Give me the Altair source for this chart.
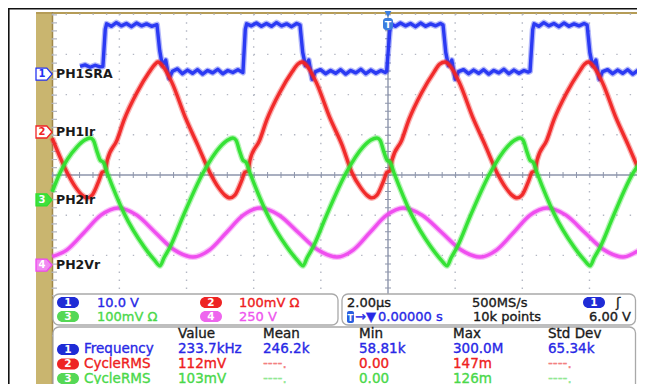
import altair as alt
import pandas as pd

# ================= values read from the oscilloscope screen =================
# time in microseconds (trigger at t = 0), level in screen divisions (0 = centre line)
ch1_trace = [
    (-9.17, 2.70), (-9.02, 2.74), (-8.87, 2.68), (-8.72, 2.73), (-8.58, 2.69), (-8.49, 2.70),
    (-8.42, 3.62), (-8.38, 3.76), (-8.24, 3.70), (-8.09, 3.79), (-7.94, 3.71), (-7.79, 3.77),
    (-7.64, 3.69), (-7.49, 3.78), (-7.34, 3.71), (-7.19, 3.76), (-7.04, 3.70), (-6.88, 3.74),
    (-6.80, 3.10), (-6.72, 2.72), (-6.62, 2.86), (-6.52, 2.40), (-6.42, 2.58),
    (-6.27, 2.64), (-6.12, 2.52), (-5.97, 2.61), (-5.82, 2.53), (-5.67, 2.62), (-5.52, 2.51),
    (-5.37, 2.60), (-5.22, 2.54), (-5.07, 2.63), (-4.92, 2.52), (-4.77, 2.60), (-4.62, 2.55),
    (-4.47, 2.62), (-4.32, 2.55),
    (-4.25, 3.62), (-4.21, 3.76), (-4.07, 3.71), (-3.92, 3.78), (-3.77, 3.70), (-3.62, 3.77),
    (-3.47, 3.70), (-3.32, 3.79), (-3.17, 3.71), (-3.02, 3.76), (-2.87, 3.69), (-2.72, 3.77),
    (-2.62, 3.73),
    (-2.54, 3.05), (-2.46, 2.72), (-2.36, 2.86), (-2.26, 2.38), (-2.16, 2.57),
    (-2.01, 2.62), (-1.86, 2.52), (-1.71, 2.60), (-1.56, 2.53), (-1.41, 2.62), (-1.26, 2.51),
    (-1.11, 2.60), (-0.96, 2.54), (-0.81, 2.63), (-0.66, 2.52), (-0.51, 2.61), (-0.36, 2.53),
    (-0.21, 2.60), (-0.08, 2.55), (-0.04, 2.58),
    (0.05, 3.55), (0.09, 3.76), (0.22, 3.70), (0.37, 3.78), (0.52, 3.71), (0.67, 3.77),
    (0.82, 3.69), (0.97, 3.78), (1.12, 3.70), (1.27, 3.76), (1.42, 3.71), (1.56, 3.77),
    (1.64, 3.73),
    (1.72, 3.05), (1.80, 2.72), (1.90, 2.86), (2.00, 2.38), (2.10, 2.57),
    (2.25, 2.62), (2.40, 2.52), (2.55, 2.61), (2.70, 2.53), (2.85, 2.62), (3.00, 2.51),
    (3.15, 2.60), (3.30, 2.54), (3.45, 2.63), (3.60, 2.52), (3.75, 2.61), (3.90, 2.53),
    (4.05, 2.60), (4.18, 2.56), (4.23, 2.58),
    (4.31, 3.62), (4.35, 3.76), (4.49, 3.70), (4.64, 3.79), (4.79, 3.71), (4.94, 3.77),
    (5.09, 3.69), (5.24, 3.78), (5.39, 3.70), (5.54, 3.76), (5.69, 3.71), (5.84, 3.77),
    (5.93, 3.73),
    (6.01, 3.05), (6.09, 2.72), (6.19, 2.86), (6.29, 2.38), (6.39, 2.57),
    (6.54, 2.62), (6.69, 2.52), (6.84, 2.61), (6.99, 2.53), (7.14, 2.62), (7.29, 2.51),
    (7.44, 2.60), (7.59, 2.54), (7.65, 2.58),
]

ch2_trace = [
    (-10.00, 0.92), (-9.56, 0.07), (-9.29, -0.32), (-9.11, -0.50), (-8.96, -0.57),
    (-8.81, -0.50), (-8.60, -0.12), (-8.51, 0.07), (-8.42, 0.10), (-8.36, 0.37), (-8.07, 0.87),
    (-7.86, 1.37), (-7.47, 2.06), (-7.11, 2.56), (-6.93, 2.76), (-6.86, 2.81),
    (-6.71, 2.71), (-6.44, 2.31), (-6.03, 1.42), (-5.67, 0.75), (-5.31, 0.07), (-5.04, -0.32),
    (-4.86, -0.50), (-4.71, -0.57),
    (-4.56, -0.50), (-4.35, -0.12), (-4.26, 0.07), (-4.17, 0.10), (-4.11, 0.37), (-3.82, 0.87),
    (-3.61, 1.37), (-3.22, 2.06), (-2.86, 2.56), (-2.68, 2.76), (-2.56, 2.81),
    (-2.41, 2.71), (-2.14, 2.31), (-1.73, 1.42), (-1.37, 0.75), (-1.08, 0.07), (-0.81, -0.32),
    (-0.63, -0.50), (-0.48, -0.57),
    (-0.33, -0.50), (-0.12, -0.12), (-0.03, 0.07), (0.06, 0.10), (0.12, 0.37), (0.41, 0.87),
    (0.62, 1.37), (1.01, 2.06), (1.37, 2.56), (1.54, 2.76), (1.70, 2.81),
    (1.85, 2.71), (2.12, 2.31), (2.53, 1.42), (2.89, 0.75), (3.24, 0.07), (3.51, -0.32),
    (3.69, -0.50), (3.84, -0.57),
    (3.99, -0.50), (4.20, -0.12), (4.29, 0.07), (4.38, 0.10), (4.44, 0.37), (4.73, 0.87),
    (4.94, 1.37), (5.33, 2.06), (5.69, 2.56), (5.86, 2.76), (5.96, 2.81),
    (6.11, 2.71), (6.38, 2.31), (6.79, 1.42), (7.15, 0.75), (7.50, 0.07), (7.65, -0.20),
]

ch3_trace = [
    (-10.00, -0.42), (-9.77, 0.05), (-9.26, 0.70), (-9.03, 0.87), (-8.87, 0.92),
    (-8.78, 0.87), (-8.66, 0.57), (-8.57, 0.37), (-8.48, 0.32), (-8.36, 0.05), (-7.86, -0.95),
    (-7.26, -1.79), (-6.96, -2.11), (-6.79, -2.26),
    (-6.67, -2.06), (-6.49, -1.79), (-6.11, -1.04), (-5.51, 0.05), (-5.00, 0.70), (-4.77, 0.87),
    (-4.62, 0.92),
    (-4.53, 0.87), (-4.41, 0.57), (-4.32, 0.37), (-4.23, 0.32), (-4.11, 0.05), (-3.61, -0.95),
    (-3.01, -1.79), (-2.71, -2.11), (-2.53, -2.26),
    (-2.41, -2.06), (-2.23, -1.79), (-1.85, -1.04), (-1.25, 0.05), (-0.74, 0.70), (-0.51, 0.87),
    (-0.33, 0.92),
    (-0.24, 0.87), (-0.12, 0.57), (-0.03, 0.37), (0.06, 0.32), (0.18, 0.05), (0.68, -0.95),
    (1.28, -1.79), (1.58, -2.11), (1.76, -2.26),
    (1.88, -2.06), (2.06, -1.79), (2.44, -1.04), (3.04, 0.05), (3.55, 0.70), (3.78, 0.87),
    (3.93, 0.92),
    (4.02, 0.87), (4.14, 0.57), (4.23, 0.37), (4.32, 0.32), (4.44, 0.05), (4.94, -0.95),
    (5.54, -1.79), (5.84, -2.11), (6.02, -2.26),
    (6.14, -2.06), (6.32, -1.79), (6.70, -1.04), (7.30, 0.05), (7.65, 0.45),
]

ch4_trace = [
    (-10.00, -2.03), (-9.56, -1.86), (-9.05, -1.43), (-8.55, -1.00), (-8.04, -0.82),
    (-7.48, -1.00), (-6.93, -1.43), (-6.37, -1.86), (-5.81, -2.04),
    (-5.31, -1.86), (-4.81, -1.43), (-4.31, -1.00), (-3.81, -0.82),
    (-3.24, -1.00), (-2.67, -1.43), (-2.09, -1.86), (-1.52, -2.04),
    (-1.03, -1.86), (-0.54, -1.43), (-0.04, -1.00), (0.45, -0.82),
    (1.02, -1.00), (1.60, -1.43), (2.17, -1.86), (2.74, -2.04),
    (3.24, -1.86), (3.74, -1.43), (4.23, -1.00), (4.73, -0.82),
    (5.30, -1.00), (5.86, -1.43), (6.43, -1.86), (7.00, -2.04),
    (7.33, -1.94), (7.65, -1.78),
]

channel_ids = ["1", "2", "3", "4"]
channel_labels = ["PH1SRA", "PH1Ir", "PH2Ir", "PH2Vr"]
channel_ground_div = [2.51, 1.07, -0.62, -2.24]
channel_vdiv = ["10.0 V", "100mV Ω", "100mV Ω", "250 V"]

time_per_div = "2.00µs"
sample_rate = "500MS/s"
record_length = "10k points"
trigger_position = "0.00000 s"
trigger_source = "1"
trigger_level = "6.00 V"

meas_headers = ["Value", "Mean", "Min", "Max", "Std Dev"]
meas_sources = ["1", "2", "3"]
meas_names = ["Frequency", "CycleRMS", "CycleRMS"]
meas_values = [
    ["233.7kHz", "246.2k", "58.81k", "300.0M", "65.34k"],
    ["112mV", "----.", "0.00", "147m", "----."],
    ["103mV", "----.", "0.00", "126m", "----."],
]

graticule_time_us = [-10, -8, -6, -4, -2, 2, 4, 6]
graticule_div = [4, 3, 2, 1, -1, -2, -3, -4]

# ================= layout and styling =================
W, H = 629, 376
TRIG_X, PX_PER_US = 380.0, 33.58
CENTER_Y, PX_PER_DIV = 167.0, 40.2
xs = alt.Scale(domain=[-TRIG_X / PX_PER_US, (W - TRIG_X) / PX_PER_US], nice=False, zero=False)
ys = alt.Scale(domain=[-(H - CENTER_Y) / PX_PER_DIV, CENTER_Y / PX_PER_DIV], nice=False, zero=False)
T_LEFT, T_RIGHT, V_TOP, V_LOW = -10.0, 7.66, 4.0, -3.0

FONT = "DejaVu Sans"
DARK = "#1a1a1a"
TAN = "#c9b56f"
GRID = "#b3b7c3"
AXIS = "#8d95ab"
TRACE = {"1": "#2433f2", "2": "#f02424", "3": "#2ee02e", "4": "#ee48ee"}
TEXTC = {"1": "#2828e6", "2": "#ee2020", "3": "#4ad84a", "4": "#ee55ee"}
DASHC = {"1": "#7a7af0", "2": "#f38080", "3": "#92e892", "4": "#f39af3"}
PILLC = {"1": "#1f2cd6", "2": "#ee2424", "3": "#55d855", "4": "#ee66ee"}
MARK_FILL = {"1": "white", "2": "white", "3": "#3ee03e", "4": "#f08af0"}
MARK_DIGIT = {"1": "#2433f2", "2": "#f02424", "3": "white", "4": "white"}
MARK_SHAPE = "M-1,-0.75L0.35,-0.75L1,0L0.35,0.75L-1,0.75Z"


def X(f):
    return alt.X(f"{f}:Q", scale=xs, axis=None)


def Y(f):
    return alt.Y(f"{f}:Q", scale=ys, axis=None)


def PX(f):
    return alt.X(f"{f}:Q", scale=None, axis=None)


def PY(f):
    return alt.Y(f"{f}:Q", scale=None, axis=None)


one = pd.DataFrame({"k": [0]})


def box(x0, x1, y0, y1, **kw):
    return alt.Chart(one).mark_rect(**kw).encode(
        x=alt.value(x0), x2=alt.value(x1), y=alt.value(y0), y2=alt.value(y1))


def vrule(x, y0, y1, **kw):
    return alt.Chart(one).mark_rule(**kw).encode(x=alt.value(x), y=alt.value(y0), y2=alt.value(y1))


def hrule(x0, x1, y, **kw):
    return alt.Chart(one).mark_rule(**kw).encode(x=alt.value(x0), x2=alt.value(x1), y=alt.value(y))


layers = []

# bezel
layers.append(box(28, 44, 4, H, fill=TAN))
layers.append(hrule(28, W, 5, color="#b59c57", strokeWidth=2))
layers.append(vrule(44.5, 4, H, color="#9f874a", strokeWidth=1.5))

# graticule dots
vg = pd.DataFrame({"t": graticule_time_us, "v0": V_TOP, "v1": V_LOW})
layers.append(alt.Chart(vg).mark_rule(color=GRID, strokeWidth=1.4, strokeDash=[1.4, 6.64]).encode(
    x=X("t"), y=Y("v0"), y2="v1"))
hg = pd.DataFrame({"v": graticule_div, "t0": T_LEFT, "t1": T_RIGHT})
layers.append(alt.Chart(hg).mark_rule(color=GRID, strokeWidth=1.4, strokeDash=[1.4, 12.03],
                                      clip=True).encode(
    y=Y("v"), x=X("t0"), x2="t1"))
# left edge ticks
layers.append(vrule(47, 6.2, 286, color=GRID, strokeWidth=4, strokeDash=[1.2, 6.84]))

# centre cross with ticks
cx = pd.DataFrame({"v": [0.0], "t0": [T_LEFT], "t1": [T_RIGHT]})
layers.append(alt.Chart(cx).mark_rule(color=AXIS, strokeWidth=1.4, clip=True).encode(
    y=Y("v"), x=X("t0"), x2="t1"))
layers.append(alt.Chart(cx).mark_rule(color=AXIS, strokeWidth=6, strokeDash=[1, 12.43], clip=True).encode(
    y=Y("v"), x=X("t0"), x2="t1"))
cy = pd.DataFrame({"t": [0.0], "v0": [V_TOP], "v1": [V_LOW]})
layers.append(alt.Chart(cy).mark_rule(color=AXIS, strokeWidth=1.4).encode(x=X("t"), y=Y("v0"), y2="v1"))
layers.append(alt.Chart(cy).mark_rule(color=AXIS, strokeWidth=6, strokeDash=[1, 7.04]).encode(
    x=X("t"), y=Y("v0"), y2="v1"))

# traces
for cid, trace, interp in [("4", ch4_trace, "monotone"), ("1", ch1_trace, "linear"),
                           ("2", ch2_trace, "monotone"), ("3", ch3_trace, "monotone")]:
    df = pd.DataFrame(trace, columns=["t", "v"])
    base = alt.Chart(df)
    layers.append(base.mark_line(color=TRACE[cid], strokeWidth=6, opacity=0.35, interpolate=interp,
                                 strokeJoin="round", clip=True).encode(x=X("t"), y=Y("v"), order="t:Q"))
    layers.append(base.mark_line(color=TRACE[cid], strokeWidth=3.4, opacity=0.95, interpolate=interp,
                                 strokeJoin="round", clip=True).encode(x=X("t"), y=Y("v"), order="t:Q"))

# channel markers and names
mk = pd.DataFrame({
    "id": channel_ids, "v": channel_ground_div, "name": channel_labels,
    "fill": [MARK_FILL[c] for c in channel_ids], "stroke": [TRACE[c] for c in channel_ids],
    "digit": [MARK_DIGIT[c] for c in channel_ids],
})
layers.append(alt.Chart(mk).mark_point(shape=MARK_SHAPE, size=256, filled=True, opacity=1,
                                       strokeWidth=1.3).encode(
    x=alt.value(36), y=Y("v"), fill=alt.Fill("fill:N", scale=None), stroke=alt.Stroke("stroke:N", scale=None)))
layers.append(alt.Chart(mk).mark_text(font=FONT, fontSize=10, fontWeight="bold", align="center",
                                      baseline="middle").encode(
    x=alt.value(34), y=Y("v"), text="id:N", color=alt.Color("digit:N", scale=None)))
layers.append(alt.Chart(mk).mark_text(font=FONT, fontSize=12.5, fontWeight="bold", align="left",
                                      baseline="middle", color=DARK).encode(
    x=alt.value(48), y=Y("v"), text="name:N"))

# trigger position marker at top
layers.append(alt.Chart(one).mark_point(shape="triangle-down", size=45, filled=True, opacity=1,
                                        color="#3b7ddf").encode(x=alt.value(TRIG_X), y=alt.value(6)))
layers.append(box(TRIG_X - 5, TRIG_X + 5, 10, 22, fill="#3b7ddf", cornerRadius=3))
layers.append(alt.Chart(one).mark_text(text="T", font=FONT, fontSize=9.5, fontWeight="bold",
                                       color="white", baseline="middle").encode(
    x=alt.value(TRIG_X), y=alt.value(16.5)))

# readout panels
panels = pd.DataFrame({"x0": [45, 334, 45], "x1": [330, W - 1.5, W - 1.5], "y0": [286, 286, 319],
                       "y1": [317, 317, 392]})
layers.append(alt.Chart(panels).mark_rect(fill="white", stroke="#a9a9a9", strokeWidth=1.3,
                                          cornerRadius=6).encode(
    x=PX("x0"), x2="x1", y=PY("y0"), y2="y1"))

# pills
pill_pos = [(60, 294.5, "1"), (203, 294.5, "2"), (60, 308.5, "3"), (203, 308.5, "4"),
            (60, 341.5, meas_sources[0]), (60, 356, meas_sources[1]), (60, 370.5, meas_sources[2]),
            (586, 294.5, trigger_source)]
pl = pd.DataFrame([{"x": x, "y": y, "d": d, "c": PILLC[d], "x0": x - 11, "x1": x + 11,
                    "y0": y - 5.5, "y1": y + 5.5} for x, y, d in pill_pos])
layers.append(alt.Chart(pl).mark_rect(cornerRadius=6).encode(
    x=PX("x0"), x2="x1", y=PY("y0"), y2="y1", fill=alt.Fill("c:N", scale=None)))
layers.append(alt.Chart(pl).mark_text(font=FONT, fontSize=10.5, fontWeight="bold", color="white",
                                      align="center", baseline="middle").encode(
    x=PX("x"), y=PY("y"), text="d:N"))

# trigger-position icon
layers.append(box(339, 346, 303, 315, fill="#2a5fe0", cornerRadius=2))
layers.append(alt.Chart(one).mark_text(text="T", font=FONT, fontSize=8.5, fontWeight="bold",
                                       color="white", baseline="middle").encode(
    x=alt.value(342.5), y=alt.value(309.5)))

# readout texts: upper boxes (tighter rows) and measurement table
top_rows = [
    (89, 294.5, channel_vdiv[0], TEXTC["1"]), (231, 294.5, channel_vdiv[1], TEXTC["2"]),
    (89, 308.5, channel_vdiv[2], TEXTC["3"]), (231, 308.5, channel_vdiv[3], TEXTC["4"]),
    (339, 294.5, time_per_div, DARK), (464, 294.5, sample_rate, DARK),
    (347, 308.5, "→▼", TEXTC["1"]), (370, 308.5, trigger_position, TEXTC["1"]),
    (465, 308.5, record_length, DARK), (608, 294.5, "ʃ", DARK),
]
rows = []
MEAS_COL_X = [170, 255, 351, 445, 540]
MEAS_ROW_Y = [341, 356, 370.5]
for x, h in zip(MEAS_COL_X, meas_headers):
    rows.append((x, 326, h, DARK))
for y, src, name, vals in zip(MEAS_ROW_Y, meas_sources, meas_names, meas_values):
    rows.append((76, y, name, TEXTC[src]))
    for x, val in zip(MEAS_COL_X, vals):
        rows.append((x, y, val, DASHC[src] if val.startswith("-") else TEXTC[src]))

for data, fs in [(top_rows, 13), (rows, 13.5)]:
    tx = pd.DataFrame(data, columns=["x", "y", "s", "c"])
    layers.append(alt.Chart(tx).mark_text(font=FONT, fontSize=fs, align="left", baseline="middle",
                                          strokeWidth=0.35).encode(
        x=PX("x"), y=PY("y"), text="s:N", fill=alt.Fill("c:N", scale=None),
        stroke=alt.Stroke("c:N", scale=None)))
layers.append(alt.Chart(one).mark_text(text=trigger_level, font=FONT, fontSize=13, align="right",
                                       baseline="middle", color=DARK, stroke=DARK,
                                       strokeWidth=0.35).encode(
    x=alt.value(W - 6), y=alt.value(308.5)))

# outer black frame
layers.append(hrule(0, W, 0.8, color="#111111", strokeWidth=1.6))
layers.append(vrule(0.8, 0, H, color="#111111", strokeWidth=1.6))

chart = (
    alt.layer(*layers)
    .resolve_scale(x="independent", y="independent")
    .properties(width=W, height=H, padding=0, background="white",
                autosize=alt.AutoSizeParams(type="none"))
    .configure_view(stroke=None)
)

chart.save("out.html", embed_options={"renderer": "svg", "actions": False})
